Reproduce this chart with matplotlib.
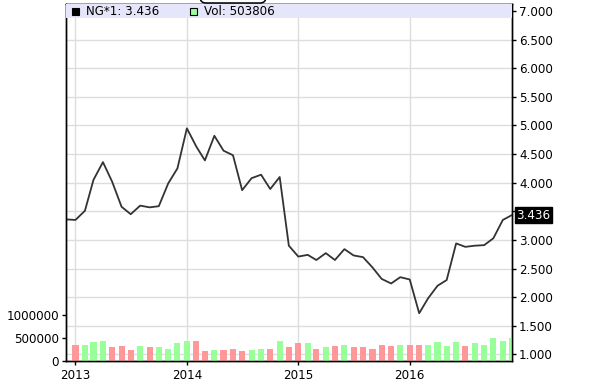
import pandas as pd
import matplotlib
matplotlib.use("Agg")
import matplotlib.pyplot as plt
import matplotlib.dates as mdates
import matplotlib.patches as mpatches
import matplotlib.transforms as mtransforms
from matplotlib.ticker import FixedLocator, FuncFormatter

# monthly closes, Dec 2012 .. Dec 2016
months = pd.date_range("2012-12-01", "2016-12-01", freq="MS")
price = [3.36,
         3.35, 3.51, 4.05, 4.36, 4.02, 3.58, 3.45, 3.60, 3.57, 3.59, 3.99, 4.25,
         4.95, 4.63, 4.39, 4.82, 4.56, 4.48, 3.87, 4.08, 4.14, 3.89, 4.10, 2.90,
         2.71, 2.74, 2.65, 2.77, 2.65, 2.84, 2.73, 2.70, 2.52, 2.32, 2.24, 2.35,
         2.31, 1.72, 1.98, 2.20, 2.30, 2.94, 2.88, 2.90, 2.91, 3.03, 3.35, 3.436]

# volume, Jan 2013 .. Dec 2016
volume = [348000, 348000, 399000, 435000, 297000, 326000, 239000, 326000, 297000, 297000, 268000, 377000,
          435000, 435000, 210000, 239000, 239000, 268000, 210000, 239000, 268000, 268000, 435000, 297000,
          377000, 377000, 268000, 297000, 326000, 348000, 297000, 297000, 268000, 348000, 326000, 348000,
          348000, 348000, 348000, 399000, 319000, 399000, 326000, 377000, 348000, 486000, 428000, 503806]

last_price = "3.436"
last_vol = "503806"

vol_dates = months[1:]
bar_colors = ["#99ff99" if price[i + 1] >= price[i] else "#ff9999" for i in range(len(volume))]

plt.rcParams["font.family"] = "DejaVu Sans"
plt.rcParams["font.size"] = 8.6

fig = plt.figure(figsize=(5.89, 3.9), dpi=100)
W, H = 589, 390
left, right, top, bottom = 66, 512, 4, 361
ax = fig.add_axes([left / W, 1 - bottom / H, (right - left) / W, (bottom - top) / H])

# price axis (right side) with the grid
ax.plot(months, price, color="#333333", lw=1.3, zorder=3)
ax.set_xlim(months[0], months[-1])
ax.set_ylim(0.886, 7.122)
pticks = [1.0, 1.5, 2.0, 2.5, 3.0, 3.5, 4.0, 4.5, 5.0, 5.5, 6.0, 6.5, 7.0]
ax.yaxis.set_major_locator(FixedLocator(pticks))
ax.yaxis.set_major_formatter(FuncFormatter(lambda v, p: "" if abs(v - 3.5) < 1e-6 else f"{v:.3f}"))
ax.xaxis.set_major_locator(mdates.YearLocator())
ax.xaxis.set_major_formatter(mdates.DateFormatter("%Y"))
ax.grid(True, color="#dddddd", lw=1)
ax.set_axisbelow(True)

# volume axis (left side)
ax2 = ax.twinx()
ax2.bar(vol_dates, volume, width=20, color=bar_colors, zorder=2)
ax2.set_ylim(0, 7.69e6)
ax2.yaxis.set_major_locator(FixedLocator([0, 500000, 1000000]))
ax2.yaxis.set_major_formatter(FuncFormatter(lambda v, p: f"{int(v)}"))

# swap sides after twinx
ax.yaxis.tick_right()
ax2.yaxis.tick_left()
ax.tick_params(axis="both", direction="out", length=3, width=1, pad=2, colors="black")
ax.tick_params(axis="x", pad=3)
ax2.tick_params(axis="y", direction="out", length=3, width=1, pad=2)
for a in (ax, ax2):
    for s in a.spines.values():
        s.set_linewidth(1)
        s.set_color("black")

# legend band on top
band_h = 14 / (bottom - top)
ax2.add_patch(mpatches.Rectangle((0, 1 - band_h), 1, band_h, transform=ax2.transAxes,
                                 facecolor="#e6e6fa", edgecolor="none", zorder=5, clip_on=False))
sq_w = 7 / (right - left)
sq_h = 7 / (bottom - top)
yb = 1 - band_h / 2
ax2.add_patch(mpatches.Rectangle((6 / (right - left), yb - sq_h / 2), sq_w, sq_h, transform=ax2.transAxes,
                                 facecolor="black", edgecolor="black", lw=0.8, zorder=6))
ax2.text(20 / (right - left), yb, f"NG*1: {last_price}", transform=ax2.transAxes,
         va="center", ha="left", zorder=7)
ax2.add_patch(mpatches.Rectangle((124 / (right - left), yb - sq_h / 2), sq_w, sq_h, transform=ax2.transAxes,
                                 facecolor="#99ff99", edgecolor="black", lw=0.8, zorder=6))
ax2.text(138 / (right - left), yb, f"Vol: {last_vol}", transform=ax2.transAxes,
         va="center", ha="left", zorder=7)

# last value marker on the price axis
ax2.annotate(last_price, xy=(1, price[-1]), xycoords=("axes fraction", ax.transData),
             xytext=(3, 0), textcoords="offset points", va="center", ha="left",
             color="white", annotation_clip=False, zorder=8,
             bbox=dict(boxstyle="square,pad=0.12", facecolor="black", edgecolor="black"))

# bottom of a clipped title box at the very top
fig.add_artist(mpatches.FancyBboxPatch((200, H - 3), 66, 20,
                                       boxstyle="round,pad=0,rounding_size=6",
                                       transform=mtransforms.IdentityTransform(),
                                       facecolor="white", edgecolor="black", lw=1.1))

fig.savefig("out.png", dpi=100)
